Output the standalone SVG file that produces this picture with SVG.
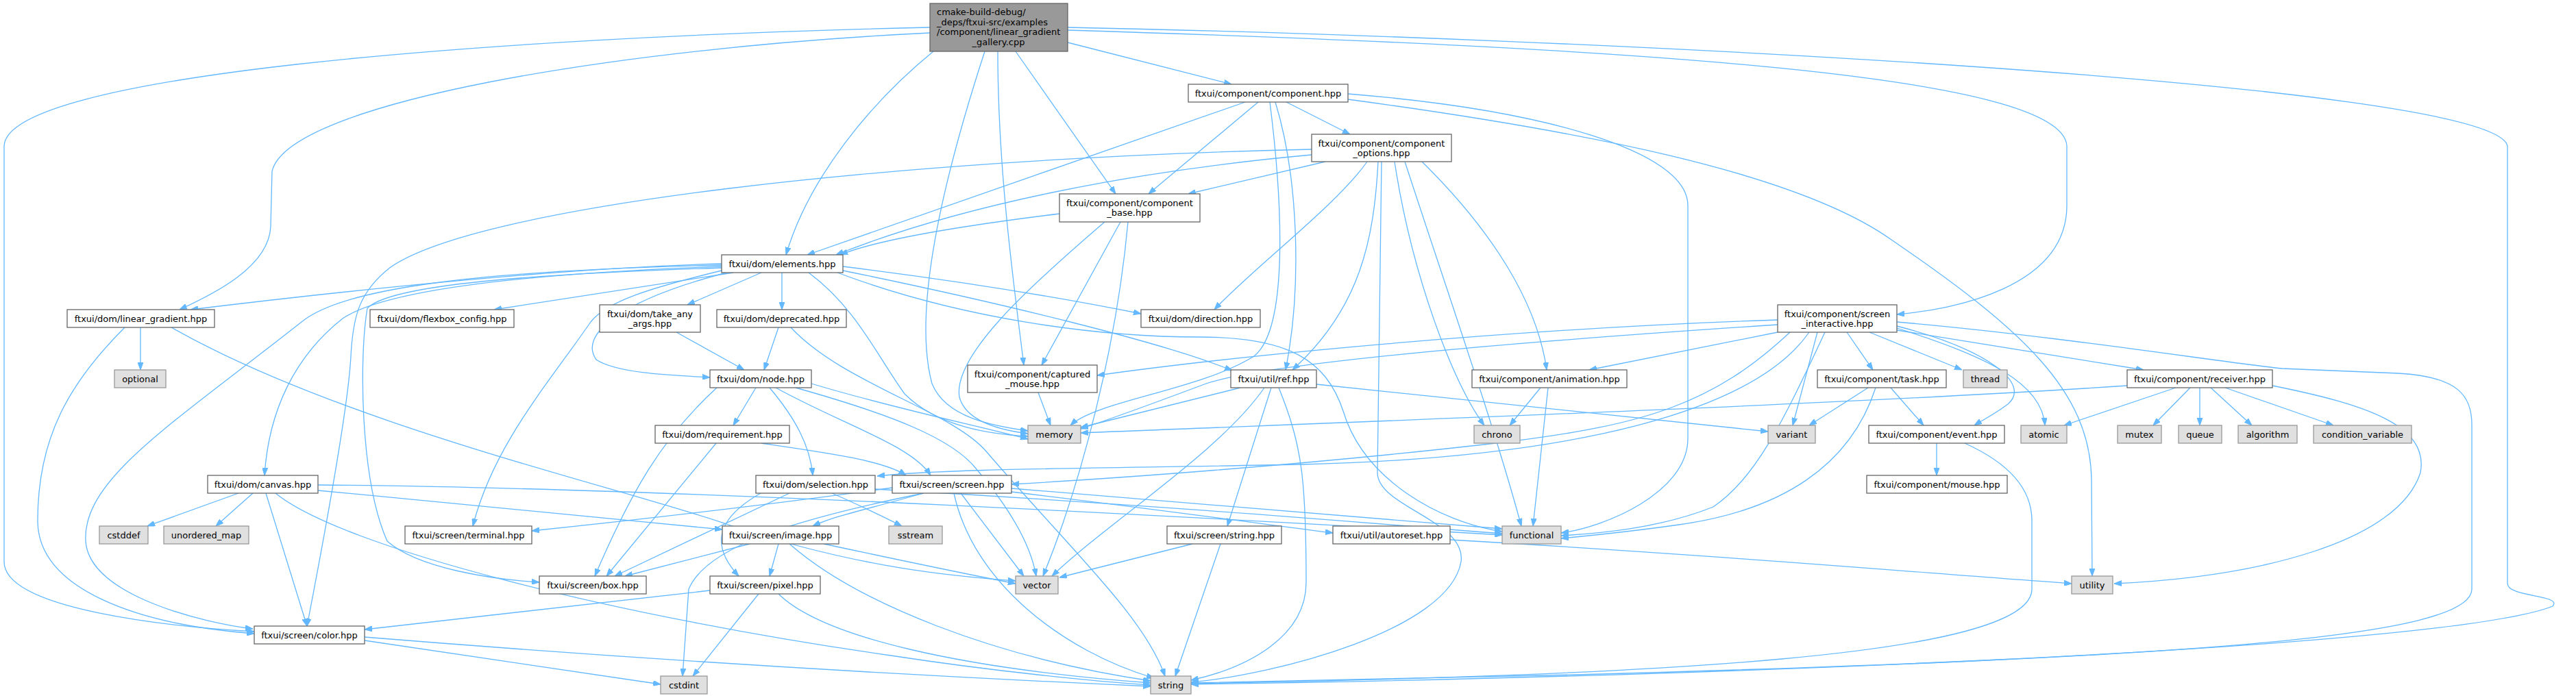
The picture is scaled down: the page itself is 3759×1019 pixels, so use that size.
<svg xmlns="http://www.w3.org/2000/svg" width="3759" height="1019" viewBox="0 0 3759 1019">
<style>
.n rect{fill:#ffffff;stroke:#666666;stroke-width:1.3}
.x rect{fill:#e0e0e0;stroke:#999999;stroke-width:1.3}
.r rect{fill:#999999;stroke:#666666;stroke-width:1.3}
text{font-family:"DejaVu Sans","Liberation Sans",sans-serif;font-size:13px;fill:#000000;text-anchor:middle}
text.l{text-anchor:start}
#edges path{fill:none;stroke:#63b8ff;stroke-width:1.3;marker-end:url(#a)}
</style>
<defs>
<marker id="a" viewBox="0 0 11 8" refX="11" refY="4" markerWidth="11" markerHeight="8" markerUnits="userSpaceOnUse" orient="auto">
<path d="M0,0 L11,4 L0,8 z" fill="#63b8ff" stroke="#63b8ff" stroke-width="1"/>
</marker>
</defs>
<rect width="3759" height="1019" fill="#ffffff"/>
<g id="edges">
<path d="M1558,62 L1797,123"/>
<path d="M1482,75 L1628,283"/>
<path d="M1456,75 C1456,250 1480,420 1494,533"/>
<path d="M1437,75 C1380,250 1330,450 1360,560 C1380,610 1450,622 1500,629"/>
<path d="M1362,75 C1270,150 1180,260 1147,372"/>
<path d="M1357,48 C900,70 420,150 397,250 L395,330 C393,390 310,430 262,452"/>
<path d="M1357,40 C700,55 10,110 6,213 L6,820 C6,890 250,915 371,922"/>
<path d="M1558,40 C2300,55 3640,120 3659,213 L3659,852 C3659,872 3740,868 3725,885 C3560,950 2400,990 1738,999"/>
<path d="M1558,44 C2400,70 3010,110 3016,213 L3016,300 C3016,420 2850,452 2768,459"/>
<path d="M1817,149 L1178,372"/>
<path d="M1836,149 L1676,283"/>
<path d="M1853,149 C1872,300 1880,480 1830,520 C1750,570 1600,585 1562,621"/>
<path d="M1861,149 C1895,260 1900,420 1876,540"/>
<path d="M1877,149 L1970,196"/>
<path d="M1967,137 C2250,160 2463,220 2463,300 L2463,640 C2463,720 2340,770 2278,778"/>
<path d="M1967,145 C2300,190 2620,250 2760,350 C2950,480 3050,570 3052,700 L3053,841"/>
<path d="M1914,218 C1300,232 700,300 570,390 C525,425 515,460 512,520 C508,600 470,800 448,914"/>
<path d="M1914,226 C1650,250 1400,300 1220,372"/>
<path d="M1934,236 L1734,283"/>
<path d="M1995,236 C1950,300 1830,390 1772,452"/>
<path d="M2011,236 C2005,350 1985,450 1886,540"/>
<path d="M2016,236 L2010,690 C2010,740 2140,760 2132,820 C2115,920 1860,985 1738,996"/>
<path d="M2035,236 C2060,400 2120,560 2166,621"/>
<path d="M2050,236 C2110,420 2180,620 2220,768"/>
<path d="M2075,236 C2150,310 2240,420 2257,540"/>
<path d="M1546,312 C1400,330 1280,350 1226,372"/>
<path d="M1612,324 C1500,420 1390,520 1400,580 C1410,615 1460,628 1500,633"/>
<path d="M1635,324 L1520,533"/>
<path d="M1646,324 C1630,500 1580,700 1522,841"/>
<path d="M1053,385 C800,392 500,425 278,452"/>
<path d="M1053,387 C700,395 500,420 440,470 C250,620 120,700 125,790 C130,870 300,910 369,918"/>
<path d="M1053,389 C750,400 560,425 500,465 C430,520 392,600 386,694"/>
<path d="M1053,391 C780,400 570,415 536,450 C524,520 525,700 565,790 C610,830 720,846 787,850"/>
<path d="M1053,395 C950,420 885,440 862,470 C800,560 720,650 690,768"/>
<path d="M1070,398 L721,452"/>
<path d="M1060,398 C900,440 845,490 870,525 C900,545 980,548 1036,551"/>
<path d="M1111,398 L1003,445"/>
<path d="M1141,398 L1141,452"/>
<path d="M1230,389 C1400,410 1550,435 1665,458"/>
<path d="M1230,395 C1450,440 1700,500 1798,541"/>
<path d="M1222,398 C1400,465 1600,492 1750,492 C1880,492 1935,525 1960,600 C1990,700 2100,762 2192,776"/>
<path d="M1180,398 C1250,450 1280,520 1320,575 C1370,625 1450,634 1500,637"/>
<path d="M182,478 C100,560 55,640 55,760 C55,860 200,912 371,925"/>
<path d="M205,478 L205,540"/>
<path d="M250,478 C500,620 900,710 1060,765 C1250,830 1400,842 1482,848"/>
<path d="M987,485 L1086,540"/>
<path d="M1136,478 L1115,540"/>
<path d="M1154,478 C1230,560 1390,600 1440,660 C1560,800 1670,900 1700,987"/>
<path d="M1046,566 C965,640 920,720 868,841"/>
<path d="M1103,566 L1070,621"/>
<path d="M1123,566 C1160,610 1182,650 1186,694"/>
<path d="M1132,566 C1230,620 1330,650 1358,694"/>
<path d="M1184,560 C1300,595 1420,620 1500,641"/>
<path d="M1161,566 C1300,605 1390,640 1425,685 C1480,750 1505,800 1512,841"/>
<path d="M1045,647 L885,841"/>
<path d="M1111,647 C1200,660 1290,672 1322,694"/>
<path d="M1515,573 L1533,621"/>
<path d="M1810,566 L1577,624"/>
<path d="M1845,566 C1780,660 1620,760 1535,841"/>
<path d="M1855,566 L1791,768"/>
<path d="M1866,566 C1900,650 1906,700 1906,850 C1906,930 1820,975 1738,993"/>
<path d="M1921,561 C2200,590 2450,615 2580,630"/>
<path d="M2248,566 L2203,621"/>
<path d="M2259,566 L2237,768"/>
<path d="M2594,467 C2200,480 1800,520 1601,548"/>
<path d="M2594,474 C2200,500 1850,530 1760,560 C1680,590 1620,612 1577,626"/>
<path d="M2594,485 L2319,540"/>
<path d="M2612,485 C2500,590 2400,620 2200,645 C1900,680 1600,700 1476,707"/>
<path d="M2640,485 C2560,600 2300,668 1900,678 C1600,684 1380,684 1280,695"/>
<path d="M2652,485 L2616,621"/>
<path d="M2663,485 C2600,620 2560,700 2500,740 C2420,772 2330,779 2278,782"/>
<path d="M2695,485 L2733,540"/>
<path d="M2728,485 L2863,540"/>
<path d="M2768,476 C2900,510 2965,560 2930,590 C2910,605 2895,612 2881,621"/>
<path d="M2768,479 C2900,520 2980,560 2984,621"/>
<path d="M2768,482 L3128,540"/>
<path d="M2768,470 C3000,490 3250,530 3330,538 L3500,545 C3590,550 3607,580 3607,620 L3607,860 C3607,930 3200,960 2300,985 L1738,997"/>
<path d="M2726,566 L2640,621"/>
<path d="M2737,566 C2700,680 2600,745 2450,766 C2380,776 2320,782 2278,786"/>
<path d="M2759,566 L2807,621"/>
<path d="M3104,563 C2700,590 2000,615 1577,632"/>
<path d="M3175,566 L3012,621"/>
<path d="M3196,566 L3142,621"/>
<path d="M3210,566 L3210,621"/>
<path d="M3226,566 L3286,621"/>
<path d="M3247,566 L3405,621"/>
<path d="M3316,563 C3450,590 3545,620 3532,690 C3500,790 3300,842 3085,852"/>
<path d="M2826,647 L2826,694"/>
<path d="M2867,647 C2940,680 2965,720 2965,760 L2965,860 C2965,960 2400,986 1738,998"/>
<path d="M348,720 L215,768"/>
<path d="M369,720 L315,768"/>
<path d="M388,720 L448,914"/>
<path d="M402,720 C500,800 900,900 1300,957 C1450,980 1600,995 1679,1000"/>
<path d="M464,708 C1000,712 1800,758 2192,781"/>
<path d="M464,716 C700,738 950,763 1054,773"/>
<path d="M1110,720 C1040,760 1040,800 1078,841"/>
<path d="M1152,720 L897,841"/>
<path d="M1214,720 C1260,740 1290,755 1316,768"/>
<path d="M1277,714 C1700,738 2000,764 2192,779"/>
<path d="M1302,712 C1100,740 900,762 776,775"/>
<path d="M1347,720 C1280,740 1220,752 1186,768"/>
<path d="M1348,720 C1150,760 1030,800 1005,860 L996,987"/>
<path d="M1392,720 C1420,850 1550,950 1684,990"/>
<path d="M1402,720 L1494,841"/>
<path d="M1476,713 C1800,738 2000,758 2192,772"/>
<path d="M1476,718 C1700,745 1850,766 1945,778"/>
<path d="M1094,794 L912,841"/>
<path d="M1136,794 L1123,841"/>
<path d="M1152,794 C1250,880 1450,960 1679,994"/>
<path d="M1202,794 C1300,815 1400,836 1482,852"/>
<path d="M1740,794 L1546,843"/>
<path d="M1781,794 L1715,987"/>
<path d="M2116,788 C2500,810 2800,836 3023,852"/>
<path d="M1036,862 L532,919"/>
<path d="M1107,867 L1011,987"/>
<path d="M1136,867 C1200,930 1400,976 1679,997"/>
<path d="M532,935 L964,999"/>
<path d="M532,930 C900,960 1300,985 1679,1002"/>
</g>
<g id="n_root" class="r"><rect x="1357" y="5" width="201" height="70"/><text class="l" x="1367" y="22">cmake-build-debug/</text><text class="l" x="1367" y="36.5">_deps/ftxui-src/examples</text><text class="l" x="1367" y="51">/component/linear_gradient</text><text x="1457" y="65.5">_gallery.cpp</text></g>
<g id="n_component" class="n"><rect x="1734" y="123" width="233" height="26"/><text x="1850.5" y="140.5">ftxui/component/component.hpp</text></g>
<g id="n_options" class="n"><rect x="1914" y="196" width="204" height="40"/><text x="2016" y="213.5">ftxui/component/component</text><text x="2016" y="228">_options.hpp</text></g>
<g id="n_base" class="n"><rect x="1546" y="283" width="205" height="41"/><text x="1648.5" y="300.5">ftxui/component/component</text><text x="1648.5" y="315">_base.hpp</text></g>
<g id="n_elements" class="n"><rect x="1053" y="372" width="177" height="26"/><text x="1141.5" y="389.5">ftxui/dom/elements.hpp</text></g>
<g id="n_lingrad" class="n"><rect x="98" y="452" width="215" height="26"/><text x="205.5" y="469.5">ftxui/dom/linear_gradient.hpp</text></g>
<g id="n_flexbox" class="n"><rect x="540" y="452" width="210" height="26"/><text x="645" y="469.5">ftxui/dom/flexbox_config.hpp</text></g>
<g id="n_takeany" class="n"><rect x="875" y="445" width="147" height="40"/><text x="948.5" y="462.5">ftxui/dom/take_any</text><text x="948.5" y="477">_args.hpp</text></g>
<g id="n_deprecated" class="n"><rect x="1046" y="452" width="189" height="26"/><text x="1140.5" y="469.5">ftxui/dom/deprecated.hpp</text></g>
<g id="n_direction" class="n"><rect x="1665" y="452" width="174" height="26"/><text x="1752" y="469.5">ftxui/dom/direction.hpp</text></g>
<g id="n_screen_interactive" class="n"><rect x="2594" y="445" width="174" height="40"/><text x="2681" y="462.5">ftxui/component/screen</text><text x="2681" y="477">_interactive.hpp</text></g>
<g id="n_optional" class="x"><rect x="167" y="540" width="75" height="26"/><text x="204.5" y="557.5">optional</text></g>
<g id="n_node" class="n"><rect x="1036" y="540" width="148" height="26"/><text x="1110" y="557.5">ftxui/dom/node.hpp</text></g>
<g id="n_captured" class="n"><rect x="1412" y="533" width="189" height="40"/><text x="1506.5" y="550.5">ftxui/component/captured</text><text x="1506.5" y="565">_mouse.hpp</text></g>
<g id="n_ref" class="n"><rect x="1796" y="540" width="125" height="26"/><text x="1858.5" y="557.5">ftxui/util/ref.hpp</text></g>
<g id="n_animation" class="n"><rect x="2148" y="540" width="226" height="26"/><text x="2261" y="557.5">ftxui/component/animation.hpp</text></g>
<g id="n_task" class="n"><rect x="2652" y="540" width="188" height="26"/><text x="2746" y="557.5">ftxui/component/task.hpp</text></g>
<g id="n_thread" class="x"><rect x="2865" y="540" width="64" height="26"/><text x="2897" y="557.5">thread</text></g>
<g id="n_receiver" class="n"><rect x="3104" y="540" width="212" height="26"/><text x="3210" y="557.5">ftxui/component/receiver.hpp</text></g>
<g id="n_requirement" class="n"><rect x="956" y="621" width="196" height="26"/><text x="1054" y="638.5">ftxui/dom/requirement.hpp</text></g>
<g id="n_memory" class="x"><rect x="1500" y="621" width="77" height="26"/><text x="1538.5" y="638.5">memory</text></g>
<g id="n_chrono" class="x"><rect x="2151" y="621" width="67" height="26"/><text x="2184.5" y="638.5">chrono</text></g>
<g id="n_variant" class="x"><rect x="2580" y="621" width="69" height="26"/><text x="2614.5" y="638.5">variant</text></g>
<g id="n_event" class="n"><rect x="2727" y="621" width="198" height="26"/><text x="2826" y="638.5">ftxui/component/event.hpp</text></g>
<g id="n_atomic" class="x"><rect x="2949" y="621" width="67" height="26"/><text x="2982.5" y="638.5">atomic</text></g>
<g id="n_mutex" class="x"><rect x="3090" y="621" width="64" height="26"/><text x="3122" y="638.5">mutex</text></g>
<g id="n_queue" class="x"><rect x="3179" y="621" width="63" height="26"/><text x="3210.5" y="638.5">queue</text></g>
<g id="n_algorithm" class="x"><rect x="3266" y="621" width="86" height="26"/><text x="3309" y="638.5">algorithm</text></g>
<g id="n_condition_variable" class="x"><rect x="3376" y="621" width="143" height="26"/><text x="3447.5" y="638.5">condition_variable</text></g>
<g id="n_canvas" class="n"><rect x="303" y="694" width="161" height="26"/><text x="383.5" y="711.5">ftxui/dom/canvas.hpp</text></g>
<g id="n_selection" class="n"><rect x="1103" y="694" width="174" height="26"/><text x="1190" y="711.5">ftxui/dom/selection.hpp</text></g>
<g id="n_screen" class="n"><rect x="1302" y="694" width="174" height="26"/><text x="1389" y="711.5">ftxui/screen/screen.hpp</text></g>
<g id="n_mouse" class="n"><rect x="2724" y="694" width="205" height="26"/><text x="2826.5" y="711.5">ftxui/component/mouse.hpp</text></g>
<g id="n_cstddef" class="x"><rect x="145" y="768" width="71" height="26"/><text x="180.5" y="785.5">cstddef</text></g>
<g id="n_unordered_map" class="x"><rect x="239" y="768" width="124" height="26"/><text x="301" y="785.5">unordered_map</text></g>
<g id="n_terminal" class="n"><rect x="591" y="768" width="185" height="26"/><text x="683.5" y="785.5">ftxui/screen/terminal.hpp</text></g>
<g id="n_image" class="n"><rect x="1054" y="768" width="170" height="26"/><text x="1139" y="785.5">ftxui/screen/image.hpp</text></g>
<g id="n_sstream" class="x"><rect x="1297" y="768" width="78" height="26"/><text x="1336" y="785.5">sstream</text></g>
<g id="n_string_hpp" class="n"><rect x="1703" y="768" width="167" height="26"/><text x="1786.5" y="785.5">ftxui/screen/string.hpp</text></g>
<g id="n_autoreset" class="n"><rect x="1945" y="768" width="171" height="26"/><text x="2030.5" y="785.5">ftxui/util/autoreset.hpp</text></g>
<g id="n_functional" class="x"><rect x="2192" y="768" width="86" height="26"/><text x="2235" y="785.5">functional</text></g>
<g id="n_box" class="n"><rect x="787" y="841" width="156" height="26"/><text x="865" y="858.5">ftxui/screen/box.hpp</text></g>
<g id="n_pixel" class="n"><rect x="1036" y="841" width="161" height="26"/><text x="1116.5" y="858.5">ftxui/screen/pixel.hpp</text></g>
<g id="n_vector" class="x"><rect x="1482" y="841" width="62" height="26"/><text x="1513" y="858.5">vector</text></g>
<g id="n_utility" class="x"><rect x="3023" y="841" width="60" height="26"/><text x="3053" y="858.5">utility</text></g>
<g id="n_color" class="n"><rect x="371" y="914" width="161" height="26"/><text x="451.5" y="931.5">ftxui/screen/color.hpp</text></g>
<g id="n_cstdint" class="x"><rect x="964" y="987" width="68" height="26"/><text x="998" y="1004.5">cstdint</text></g>
<g id="n_string" class="x"><rect x="1679" y="987" width="59" height="26"/><text x="1708.5" y="1004.5">string</text></g>
</svg>
